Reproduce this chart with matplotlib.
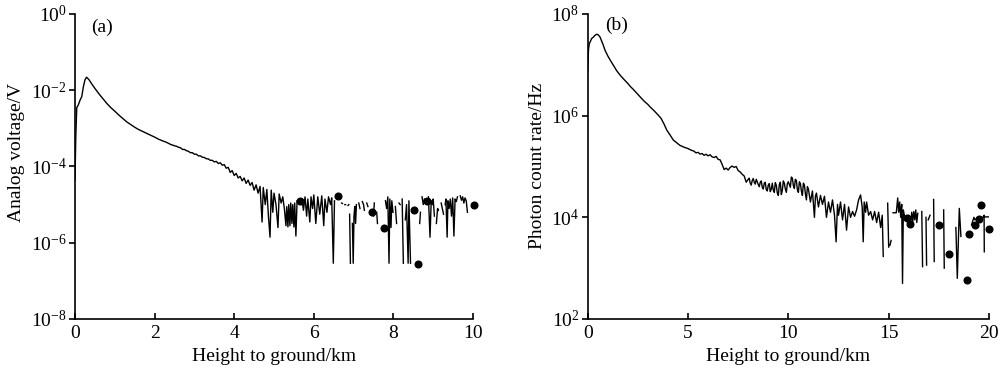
import numpy as np
import matplotlib
matplotlib.use("Agg")
import matplotlib.pyplot as plt

nan = np.nan

# ---------------- Panel (a): analog voltage ----------------
h_a = [0.00, 0.02, 0.045, 0.06, 0.09, 0.13, 0.17, 0.21, 0.25, 0.29, 0.35, 0.45, 0.55, 0.63, 0.80, 0.90,
       1.0, 1.1, 1.2, 1.3, 1.4, 1.5, 1.6, 1.7, 1.8, 1.9, 2.0, 2.1, 2.2, 2.3, 2.4, 2.5,
       2.55, 2.6, 2.65, 2.7, 2.75, 2.8, 2.85, 2.9, 2.95, 3.0, 3.05, 3.1, 3.15, 3.2, 3.25, 3.3, 3.35,
       3.4, 3.45, 3.5, 3.55, 3.6, 3.65, 3.7, 3.75, 3.8, 3.85, 3.9, 3.95, 4.0, 4.05, 4.1, 4.15, 4.2,
       4.25, 4.3, 4.35, 4.4, 4.45, 4.5, 4.55, 4.6, 4.65,
       4.70, 4.73, 4.78, 4.82, 4.86, 4.90, 4.93, 4.97, 5.00, 5.05, 5.10, 5.13, 5.18, 5.22, 5.26,
       5.30, 5.32, 5.35, 5.37, 5.40, 5.42, 5.45, 5.47, 5.50, 5.52, 5.55, 5.58, 5.61,
       5.70, 5.74, 5.78, 5.82, 5.85, 5.90, 5.93, 5.97, 6.00, 6.05, 6.10, 6.15, 6.20, 6.25, 6.28,
       6.33, 6.37, 6.42, 6.45, 6.49, 6.52, 6.55,
       6.70, 6.72, 6.74, 6.78, 6.80, 6.82, 6.86, 6.88, 6.89,
       6.90, 6.92, 6.93,
       6.97, 6.99, 7.01, 7.03, 7.05, 7.07, 7.09,
       7.13, 7.16, 7.18,
       7.22, 7.25, 7.27, 7.29,
       7.33, 7.36, 7.38,
       7.50, 7.52, 7.54,
       7.58, 7.60, 7.62,
       7.80, 7.83, 7.86, 7.89, 7.91, 7.94, 7.96, 7.99, 8.02,
       8.05, 8.08, 8.10,
       8.14, 8.17, 8.19,
       8.22, 8.25, 8.27,
       8.30, 8.33, 8.37, 8.39, 8.43, 8.45,
       8.66, 8.68, 8.70,
       8.72, 8.75, 8.78, 8.80,
       8.88, 8.92, 8.95, 8.98, 9.00, 9.03, 9.05,
       9.08, 9.11, 9.13, 9.16,
       9.20, 9.23, 9.26, 9.28,
       9.30, 9.32, 9.35, 9.37, 9.40, 9.43, 9.46, 9.49, 9.52, 9.55, 9.58, 9.61, 9.64,
       9.68, 9.71, 9.74, 9.77, 9.80, 9.83, 9.86, 9.88]
v_a = [4.4e-5, 6.0e-4, 3.6e-3, 3.7e-3, 4.3e-3, 5.6e-3, 6.8e-3, 1.23e-2, 1.86e-2, 2.2e-2, 1.9e-2, 1.32e-2, 9.5e-3, 7.4e-3, 4.5e-3, 3.5e-3,
       2.82e-3, 2.24e-3, 1.82e-3, 1.48e-3, 1.26e-3, 1.07e-3, 9.3e-4, 8.3e-4, 7.4e-4, 6.6e-4, 5.9e-4, 5.2e-4, 4.7e-4, 4.3e-4, 3.8e-4, 3.5e-4,
       3.4e-4, 3.2e-4, 3.1e-4, 2.8e-4, 2.8e-4, 2.6e-4, 2.5e-4, 2.3e-4, 2.3e-4, 2.1e-4, 2.1e-4, 1.9e-4, 1.9e-4, 1.75e-4, 1.72e-4, 1.6e-4, 1.58e-4,
       1.45e-4, 1.45e-4, 1.32e-4, 1.36e-4, 1.2e-4, 1.25e-4, 1.08e-4, 1.12e-4, 9.0e-5, 9.5e-5, 7.0e-5, 7.8e-5, 5.8e-5, 6.6e-5, 5.0e-5, 5.5e-5, 4.2e-5,
       5.0e-5, 3.6e-5, 4.4e-5, 3.2e-5, 3.8e-5, 2.4e-5, 3.3e-5, 2.0e-5, 3.0e-5,
       3.5e-6, 2.8e-5, 1.0e-5, 2.5e-5, 5.0e-6, 1.4e-6, 2.4e-5, 6.3e-6, 2.0e-5, 1.0e-5, 2.5e-6, 1.9e-5, 1.1e-5, 1.6e-5, 7.9e-6,
       2.8e-6, 8.9e-6, 2.6e-6, 1.0e-5, 2.8e-6, 1.1e-5, 3.2e-6, 1.0e-5, 2.6e-6, 1.1e-5, 1.5e-6, 1.26e-5, nan,
       1.4e-5, 7.1e-6, 1.6e-5, 5.0e-6, 1.4e-5, 3.5e-6, 1.6e-5, 7.9e-6, 1.8e-5, 3.2e-6, 1.6e-5, 5.6e-6, 1.7e-5, 2.8e-6, 1.4e-5,
       6.3e-6, 1.6e-5, 1.0e-5, 1.5e-5, 2.9e-7, 1.26e-5, nan,
       1.1e-5, 1.07e-5, nan, 1.0e-5, 1.0e-5, nan, 9.5e-6, 1.0e-5, nan,
       5.6e-6, 2.9e-7, nan,
       3.2e-6, 2.9e-7, 5.0e-6, 8.9e-6, 3.2e-6, 1.0e-5, nan,
       1.1e-5, 7.9e-6, nan,
       1.2e-5, 1.0e-5, 7.1e-6, nan,
       1.1e-5, 8.9e-6, nan,
       5.0e-6, 1.1e-5, nan,
       6.3e-6, 3.2e-6, nan,
       1.26e-5, 7.9e-6, 1.6e-5, 2.9e-7, 1.4e-5, 2.5e-6, 1.26e-5, 6.3e-6, nan,
       8.9e-6, 3.2e-6, nan,
       1.1e-5, 1.0e-5, nan,
       1.4e-5, 2.9e-7, nan,
       4.0e-6, 1.0e-5, 2.9e-7, 1.26e-5, 2.9e-7, nan,
       3.2e-6, 6.3e-6, nan,
       1.6e-5, 1.0e-5, 1.4e-5, nan,
       1.6e-5, 1.4e-6, 1.26e-5, 1.0e-5, 1.4e-5, 5.0e-6, nan,
       3.2e-6, 7.9e-6, 7.1e-6, nan,
       1.1e-5, 7.9e-6, 5.6e-6, nan,
       1.0e-5, 1.4e-5, 1.4e-6, 1.26e-5, 7.9e-6, 1.4e-5, 5.0e-6, 1.5e-5, 1.5e-6, 1.4e-5, 1.2e-5, 1.6e-5, nan,
       1.7e-5, 1.3e-5, 1.6e-5, 1.1e-5, 1.5e-5, 1.26e-5, 6.3e-6, nan]
dots_h_a = [5.65, 6.62, 7.46, 7.76, 8.53, 8.61, 8.84, 10.02]
dots_v_a = [1.26e-5, 1.7e-5, 6.3e-6, 2.5e-6, 7.2e-6, 2.7e-7, 1.26e-5, 9.5e-6]

# ---------------- Panel (b): photon count rate ----------------
h_b = [0.00, 0.04, 0.08, 0.15, 0.20, 0.28, 0.36, 0.45, 0.52, 0.61, 0.75, 0.86, 1.0, 1.11, 1.3, 1.45, 1.61,
       1.8, 2.0, 2.11, 2.3, 2.45, 2.61, 2.8, 3.0, 3.1, 3.3, 3.52, 3.65, 3.8, 3.94, 4.1, 4.27, 4.45, 4.6,
       4.8, 5.0, 5.15,
       5.3, 5.4, 5.5, 5.6, 5.7, 5.8, 5.9, 6.0, 6.1, 6.2, 6.3, 6.4, 6.5, 6.6, 6.7, 6.8, 6.9, 7.0, 7.1, 7.2,
       7.3, 7.4, 7.5, 7.6, 7.7, 7.8, 7.9,
       8.0, 8.05, 8.1, 8.15, 8.2, 8.25, 8.3, 8.35, 8.4, 8.45, 8.5, 8.55, 8.6, 8.65, 8.7, 8.75, 8.8, 8.85,
       8.9, 8.95, 9.0, 9.05, 9.1, 9.15, 9.2, 9.25, 9.3, 9.35, 9.4, 9.45, 9.5, 9.55, 9.6, 9.65, 9.7, 9.75,
       9.8, 9.85, 9.9, 9.95, 10.0, 10.05, 10.1, 10.15, 10.2, 10.25, 10.3, 10.35, 10.4, 10.45, 10.5, 10.55,
       10.6, 10.65, 10.7, 10.75, 10.8, 10.85, 10.9, 10.95, 11.0,
       11.1, 11.2, 11.3, 11.35, 11.4, 11.5, 11.6, 11.7, 11.8, 11.9, 12.0, 12.1, 12.2, 12.3, 12.38, 12.45,
       12.5, 12.6, 12.7, 12.8, 12.9, 13.0, 13.1, 13.2, 13.3, 13.4, 13.5, 13.6, 13.68, 13.73, 13.78, 13.85,
       13.9, 14.0, 14.1, 14.2, 14.3, 14.4, 14.5, 14.6, 14.68, 14.73, 14.8,
       14.95, 15.0, 15.03, 15.06, 15.12, 15.15,
       15.22, 15.38, 15.45, 15.5, 15.55, 15.6, 15.65, 15.69, 15.73, 15.78, 15.84, 15.9, 15.95, 16.0,
       16.06, 16.1, 16.15, 16.2, 16.25, 16.3, 16.35, 16.4, 16.45, 16.5,
       16.65, 16.69, 16.72,
       16.86, 16.89, 16.92,
       16.97, 17.06, 17.08,
       17.24, 17.27, 17.3,
       17.74, 17.77, 17.8,
       18.35, 18.42, 18.52, 18.6, 18.62,
       19.13, 19.25, 19.3, 19.46, 19.5,
       19.71, 19.755, 19.765, 19.77, 19.78, 20.04]
v_b = [7.2e6, 2.0e7, 2.6e7, 3.0e7, 3.3e7, 3.5e7, 3.8e7, 4.0e7, 3.9e7, 3.55e7, 2.6e7, 1.95e7, 1.5e7, 1.26e7, 9.5e6, 7.6e6, 6.3e6,
       5.2e6, 4.3e6, 3.8e6, 3.2e6, 2.75e6, 2.35e6, 1.95e6, 1.66e6, 1.5e6, 1.26e6, 1.02e6, 8.9e5, 6.9e5, 5.2e5, 4.2e5, 3.3e5, 2.9e5, 2.6e5,
       2.4e5, 2.25e5, 2.1e5,
       2.0e5, 1.85e5, 1.9e5, 1.75e5, 1.8e5, 1.66e5, 1.74e5, 1.62e5, 1.7e5, 1.55e5, 1.5e5, 1.58e5, 1.38e5, 1.35e5, 1.1e5, 8.7e4, 9.3e4, 8.5e4, 9.6e4, 1.02e5,
       9.6e4, 1.0e5, 8.3e4, 7.8e4, 7.0e4, 6.5e4, 4.9e4,
       5.6e4, 5.9e4, 4.7e4, 4.3e4, 5.3e4, 5.8e4, 4.9e4, 4.5e4, 5.6e4, 5.0e4, 4.4e4, 4.0e4, 4.9e4, 5.2e4, 3.9e4, 3.6e4, 4.7e4, 4.9e4,
       3.5e4, 3.3e4, 4.3e4, 4.6e4, 3.2e4, 3.6e4, 4.7e4, 3.4e4, 3.1e4, 4.8e4, 4.3e4, 3.0e4, 2.7e4, 4.4e4, 4.9e4, 2.8e4, 3.4e4, 5.2e4,
       4.7e4, 3.6e4, 3.1e4, 4.6e4, 5.0e4, 4.4e4, 3.9e4, 6.2e4, 5.9e4, 4.2e4, 3.7e4, 5.6e4, 5.3e4, 3.5e4, 3.1e4, 5.0e4,
       4.6e4, 3.3e4, 2.7e4, 4.7e4, 4.3e4, 2.9e4, 2.2e4, 4.0e4, 3.6e4,
       2.0e4, 3.3e4, 1.0e4, 2.6e4, 3.0e4, 1.6e4, 2.7e4, 1.8e4, 2.6e4, 1.0e4, 2.0e4, 1.26e4, 2.2e4, 1.1e4, 3.3e3, 1.8e4,
       1.1e4, 2.0e4, 8.9e3, 1.8e4, 5.6e3, 1.6e4, 1.0e4, 1.3e4, 1.05e4, 1.4e4, 2.2e4, 2.75e4, 1.6e4, 3.3e3, 2.0e4, 1.26e4,
       2.0e4, 1.1e4, 1.3e4, 8.9e3, 1.3e4, 7.9e3, 1.26e4, 6.3e3, 1.1e4, 1.7e3, nan,
       1.9e4, 2.6e3, nan, 2.8e3, 3.5e3, nan,
       1.23e4, 1.23e4, 2.4e4, 1.26e4, 2.0e4, 1.0e4, 1.8e4, 5.0e2, 1.4e4, 1.1e4, 9.5e3, 1.0e4, 8.9e3, 1.1e4,
       7.6e3, 8.0e3, 1.26e4, 8.3e3, 1.3e4, 8.9e3, 1.4e4, 7.9e3, 1.2e4, nan,
       1.3e4, 1.07e3, nan,
       1.0e4, 1.15e3, nan,
       8.9e3, 1.1e4, nan,
       2.25e4, 1.35e3, nan,
       1.4e4, 1.0e3, nan,
       6.3e3, 6.3e2, 1.5e4, 4.2e3, nan,
       7.1e3, 1.0e4, 8.9e3, 1.0e4, nan,
       1.02e4, 1.1e4, 2.1e3, nan, 1.02e4, 1.02e4]
dots_h_b = [15.89, 16.06, 17.52, 17.99, 18.91, 19.01, 19.31, 19.51, 19.6, 20.01]
dots_v_b = [9.5e3, 7.4e3, 7.2e3, 1.86e3, 5.9e2, 4.8e3, 7.2e3, 9.3e3, 1.74e4, 6.0e3]

yticks_a = [1e0, 1e-2, 1e-4, 1e-6, 1e-8]
ytick_labels_a = [r"$\mathdefault{10^{0}}$", r"$\mathdefault{10^{-2}}$", r"$\mathdefault{10^{-4}}$",
                  r"$\mathdefault{10^{-6}}$", r"$\mathdefault{10^{-8}}$"]
xticks_a = [0, 2, 4, 6, 8, 10]
yticks_b = [1e8, 1e6, 1e4, 1e2]
ytick_labels_b = [r"$\mathdefault{10^{8}}$", r"$\mathdefault{10^{6}}$", r"$\mathdefault{10^{4}}$",
                  r"$\mathdefault{10^{2}}$"]
xticks_b = [0, 5, 10, 15, 20]

plt.rcParams["font.family"] = ["Liberation Serif", "DejaVu Serif"]
plt.rcParams["mathtext.fontset"] = "custom"
plt.rcParams["mathtext.rm"] = "Liberation Serif"
plt.rcParams["axes.unicode_minus"] = False
plt.rcParams["font.size"] = 14

fig = plt.figure(figsize=(10, 3.73), dpi=100)
ax_a = fig.add_axes([0.075, 0.1448, 0.398, 0.8177])
ax_b = fig.add_axes([0.5877, 0.1448, 0.4013, 0.8177])

def style(ax, xlim, ylim, xticks, yticks, ylabels):
    ax.set_yscale("log")
    ax.set_xlim(*xlim)
    ax.set_ylim(*ylim)
    for s in ("top", "right"):
        ax.spines[s].set_visible(False)
    for s in ("left", "bottom"):
        ax.spines[s].set_linewidth(1.2)
    ax.set_xticks(xticks)
    ax.set_xticklabels([str(t) for t in xticks])
    ax.set_yticks(yticks)
    ax.set_yticklabels(ylabels)
    ax.minorticks_off()
    ax.tick_params(axis="y", direction="out", length=4, width=1.2, pad=2, labelsize=14)
    ax.tick_params(axis="x", direction="in", length=4, width=1.2, pad=4, labelsize=14)

ax_a.plot(h_a, v_a, color="black", lw=1.0)
ax_a.plot(dots_h_a, dots_v_a, "o", color="black", ms=4.8, clip_on=False)
style(ax_a, (0, 10), (1e-8, 1e0), xticks_a, yticks_a, ytick_labels_a)
ax_a.text(0.068, 0.957, "(a)", transform=ax_a.transAxes, ha="center", va="center", fontsize=14)

ax_b.plot(h_b, v_b, color="black", lw=1.0)
ax_b.plot(dots_h_b, dots_v_b, "o", color="black", ms=4.8, clip_on=False)
style(ax_b, (0, 20), (1e2, 1e8), xticks_b, yticks_b, ytick_labels_b)
ax_b.text(0.073, 0.962, "(b)", transform=ax_b.transAxes, ha="center", va="center", fontsize=14)

fig.text(0.274, 0.043, "Height to ground/km", ha="center", va="center", fontsize=14)
fig.text(0.788, 0.043, "Height to ground/km", ha="center", va="center", fontsize=14)
fig.text(0.017, 0.591, "Analog voltage/V", rotation=90, ha="center", va="center", fontsize=14)
fig.text(0.538, 0.554, "Photon count rate/Hz", rotation=90, ha="center", va="center", fontsize=14)

fig.savefig("out.png", dpi=100)
